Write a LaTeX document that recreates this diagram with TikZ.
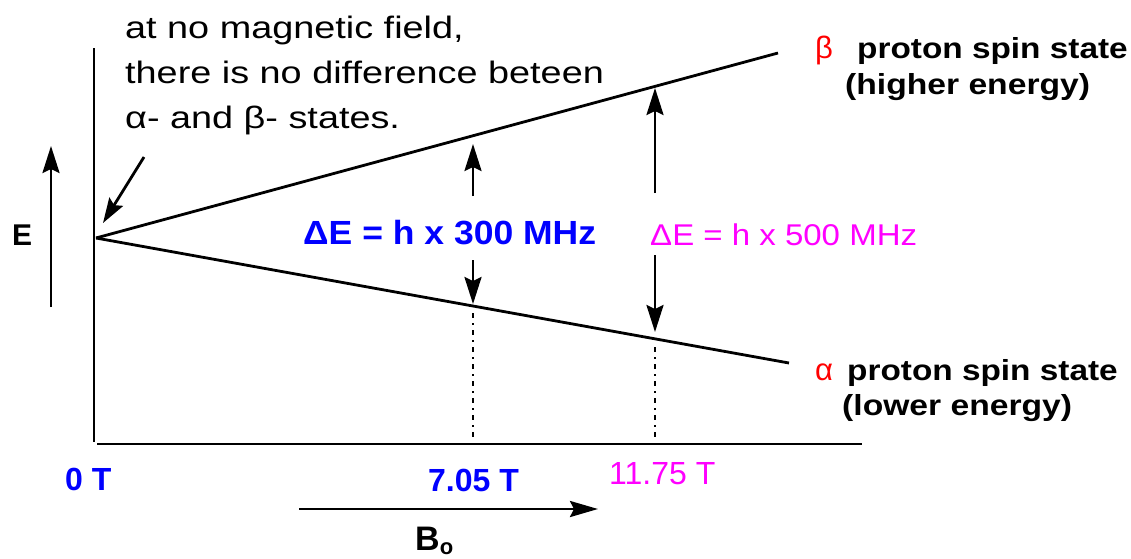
\documentclass[tikz,border=0pt]{standalone}
\usepackage{fontspec}
\setmainfont{Liberation Sans}
\usepackage{graphicx}
\usetikzlibrary{arrows.meta}
\definecolor{pblue}{RGB}{0,0,255}
\definecolor{pmag}{RGB}{255,0,255}
\definecolor{pred}{RGB}{255,0,0}
\newcommand{\hs}[2]{\scalebox{#1}[1]{#2}}
\begin{document}
\begin{tikzpicture}[x=1pt,y=-1pt,
  ln/.style={line width=2.8pt},
  arr/.style={ln,-{Stealth[length=27pt,width=17pt,inset=4pt]}},
  dotln/.style={line width=2.8pt,dash pattern=on 5pt off 5pt on 2pt off 5pt},
  lbl/.style={inner sep=0pt,anchor=base west},
  note/.style={lbl,font=\fontsize{31}{45}\selectfont},
  boldlbl/.style={lbl,font=\bfseries\fontsize{29}{34}\selectfont},
  greek/.style={lbl,text=pred,font=\fontsize{31}{34}\selectfont},
  tick/.style={lbl,text=pblue,font=\bfseries\fontsize{32}{36}\selectfont},
  magtick/.style={lbl,text=pmag,font=\fontsize{32}{36}\selectfont}]
\useasboundingbox (0,0) rectangle (1131,558);
% axes
\coordinate (vtop) at (94,48);
\coordinate (vbot) at (94,442);
\coordinate (hleft) at (97,444);
\coordinate (hright) at (862,444);
\draw[ln] (vtop) -- (vbot);
\draw[ln] (hleft) -- (hright);
% energy levels
\coordinate (O) at (96,238);
\coordinate (betaend) at (778,53);
\coordinate (alphaend) at (789,363);
\draw[ln] (O) -- (betaend);
\draw[ln] (O) -- (alphaend);
% E arrow
\coordinate (eb) at (51,307);
\coordinate (et) at (51,146);
\draw[arr] (eb) -- (et);
\node[lbl,font=\bfseries\fontsize{30}{34}\selectfont] (E) at (12,245) {E};
% pointer
\coordinate (ps) at (144,157);
\coordinate (pe) at (103,223);
\draw[ln,-{Stealth[length=25pt,width=16pt,inset=4pt]}] (ps) -- (pe);
\node[note] (notetext) at (125,38) {\hs{1.22}{\begin{tabular}[t]{@{}l@{}}at no magnetic field,\\there is no difference beteen\\α- and β- states.\end{tabular}}};
% 300 MHz
\coordinate (b1) at (473,196);
\coordinate (b1t) at (473,144);
\coordinate (b2) at (473,260);
\coordinate (b2t) at (473,304);
\coordinate (b3) at (473,313);
\coordinate (b3b) at (473,441);
\draw[arr] (b1) -- (b1t);
\draw[arr] (b2) -- (b2t);
\draw[dotln] (b3) -- (b3b);
\node[lbl,text=pblue,font=\bfseries\fontsize{33.5}{38}\selectfont] (de300) at (303,244) {\hs{1.06}{ΔE = h x 300 MHz}};
% 500 MHz
\coordinate (m1) at (655,193);
\coordinate (m1t) at (655,88);
\coordinate (m2) at (655,255);
\coordinate (m2t) at (655,332);
\coordinate (m3) at (655,347);
\coordinate (m3b) at (655,441);
\draw[arr] (m1) -- (m1t);
\draw[arr] (m2) -- (m2t);
\draw[dotln] (m3) -- (m3b);
\node[lbl,text=pmag,font=\fontsize{30}{34}\selectfont] (de500) at (650,245) {\hs{1.1}{ΔE = h x 500 MHz}};
% state labels
\node[greek] (betasym) at (815,58) {β};
\node[boldlbl] (betatxt) at (857,58) {\hs{1.15}{proton spin state}};
\node[boldlbl] (betaen) at (845,94) {\hs{1.16}{(higher energy)}};
\node[greek] (alphasym) at (815,380) {α};
\node[boldlbl] (alphatxt) at (847,380) {\hs{1.15}{proton spin state}};
\node[boldlbl] (alphaen) at (842,415) {\hs{1.16}{(lower energy)}};
% ticks
\node[tick] (t0) at (65,490) {0 T};
\node[tick] (t705) at (428,491) {7.05 T};
\node[magtick] (t1175) at (609,484) {11.75 T};
% B0
\coordinate (bs) at (299,509);
\coordinate (be) at (598,509);
\draw[ln,-{Stealth[length=28pt,width=16pt,inset=4pt]}] (bs) -- (be);
\node[lbl,font=\bfseries\fontsize{34}{40}\selectfont] (B0) at (415,550) {B\raisebox{-0.12em}{\fontsize{22}{26}\selectfont o}};
\end{tikzpicture}
\end{document}
